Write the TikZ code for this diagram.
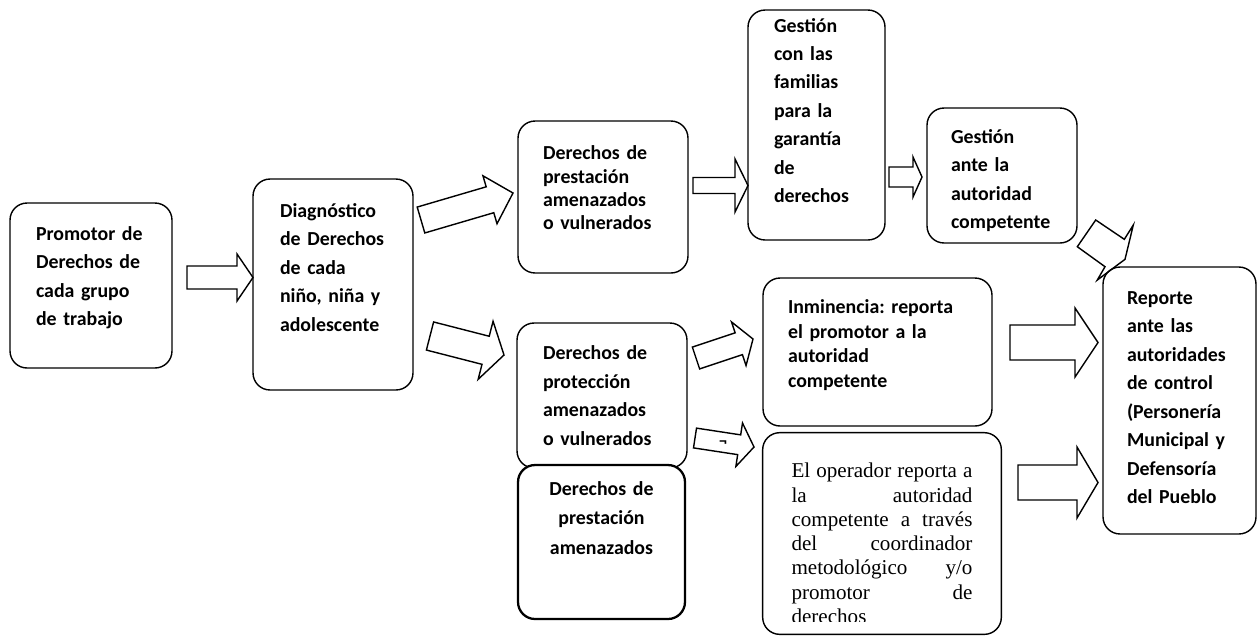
\documentclass[tikz,border=0pt]{standalone}
\usepackage{fontspec}
\newfontfamily\calib{Carlito}
\newfontfamily\timesf{Liberation Serif}
\usetikzlibrary{calc}

% outlined block arrow: tail, tip, shaft half width, head half width, head length
\newcommand{\blockarrow}[5]{%
  \coordinate (hb) at ($(#2)!#5!(#1)$);
  \draw[blockline] ($(#1)!#3!90:(#2)$) -- ($(hb)!#3!-90:(#1)$) -- ($(hb)!#4!-90:(#1)$)
    -- (#2) -- ($(hb)!#4!90:(#1)$) -- ($(hb)!#3!90:(#1)$) -- ($(#1)!#3!-90:(#2)$) -- cycle;
}
% extra room under the text, so that it sits higher in its box
\newcommand{\lift}[1]{\par\vspace{#1}\hrule height 0pt depth 0pt\relax}

\begin{document}
\begin{tikzpicture}[
    x=0.02cm, y=-0.02cm,
    box/.style={rectangle, draw, line width=0.8pt, rounded corners=0.34cm, fill=white, align=left, inner sep=0pt, font=\calib\bfseries\frenchspacing\fontsize{11.3}{16.2}\selectfont},
    thickbox/.style={box, line width=1.3pt, align=center, font=\calib\bfseries\fontsize{11.3}{17}\selectfont},
    blockline/.style={line width=0.8pt, line join=miter}
]
\useasboundingbox (0,0) rectangle (1260,637);

\node[box, minimum width=3.24cm, minimum height=3.3cm, text width=2.2cm] (promotor) at (91,285.5)
  {Promotor de\\ Derechos de\\ cada grupo\\ de trabajo\lift{0.32cm}};
\node[box, minimum width=3.2cm, minimum height=4.22cm, text width=2.12cm] (diagnostico) at (333,284.5)
  {Diagnóstico\\ de Derechos\\ de cada\\ niño, niña y\\ adolescente\lift{0.68cm}};
\node[box, minimum width=3.4cm, minimum height=3.04cm, text width=2.4cm, font=\calib\bfseries\fontsize{11.3}{13.3}\selectfont] (prestacion) at (603,197)
  {Derechos de\\ prestación\\ amenazados\\ o vulnerados\lift{0.36cm}};
\node[box, minimum width=2.74cm, minimum height=4.6cm, text width=1.7cm] (familias) at (816.5,125)
  {Gestión\\ con las\\ familias\\ para la\\ garantía\\ de\\ derechos\lift{0.58cm}};
\node[box, minimum width=3cm, minimum height=2.7cm, text width=2.04cm] (gestion) at (1002,175.5)
  {Gestión\\ ante la\\ autoridad\\ competente\lift{-0.2cm}};
\node[box, minimum width=4.58cm, minimum height=2.96cm, text width=3.58cm, font=\calib\bfseries\frenchspacing\fontsize{11.3}{13.9}\selectfont] (inminencia) at (877.5,352)
  {Inminencia: reporta\\ el promotor a la\\ autoridad\\ competente\lift{0.28cm}};
\node[box, minimum width=3.06cm, minimum height=5.34cm, text width=2.1cm] (reporte) at (1179.5,400.5)
  {Reporte\\ ante las\\ autoridades\\ de control\\ (Personería\\ Municipal y\\ Defensoría\\ del Pueblo\lift{0.12cm}};
\node[box, minimum width=3.4cm, minimum height=2.9cm, text width=2.36cm] (proteccion) at (602,395.5)
  {Derechos de\\ protección\\ amenazados\\ o vulnerados};
\node[thickbox, minimum width=3.34cm, minimum height=3.08cm, text width=3cm] (prestamen) at (601.5,542)
  {Derechos de\\ prestación\\ amenazados\lift{0.96cm}};

% text of this box is cut off at its lower edge
\begin{scope}
  \clip (0,0) rectangle (1260,621);
  \node[rectangle, inner sep=0pt, minimum width=4.76cm, minimum height=4.02cm, text width=3.62cm, align=justify, font=\timesf\fontsize{12}{13.8}\selectfont] (operador) at (882,533.5)
    {El operador reporta a\linebreak la autoridad\linebreak competente a través\linebreak del coordinador\linebreak metodológico y/o\linebreak promotor de\linebreak derechos\lift{-0.4cm}};
\end{scope}
\draw[line width=0.8pt, rounded corners=0.34cm] (operador.north west) rectangle (operador.south east);

% block arrows
\coordinate (a1t) at (187,277.5);   \coordinate (a1h) at (253,277.5);
\coordinate (a2t) at (421,220);     \coordinate (a2h) at (513,193);
\coordinate (a3t) at (430,336);     \coordinate (a3h) at (504,355);
\coordinate (a4t) at (693,185.5);   \coordinate (a4h) at (748,185.5);
\coordinate (a5t) at (889,177);     \coordinate (a5h) at (922,177);
\coordinate (a7t) at (696,358);     \coordinate (a7h) at (753,339);
\coordinate (a8t) at (695,438);     \coordinate (a8h) at (754,447);
\coordinate (a9t) at (1010,342.5);  \coordinate (a9h) at (1098,342.5);
\coordinate (a10t) at (1018,482.5); \coordinate (a10h) at (1098,482.5);

\blockarrow{a1t}{a1h}{0.23cm}{0.47cm}{0.32cm}
\blockarrow{a2t}{a2h}{0.27cm}{0.50cm}{0.48cm}
\blockarrow{a3t}{a3h}{0.29cm}{0.60cm}{0.38cm}
\blockarrow{a4t}{a4h}{0.16cm}{0.53cm}{0.26cm}
\blockarrow{a5t}{a5h}{0.20cm}{0.40cm}{0.18cm}
\blockarrow{a7t}{a7h}{0.23cm}{0.46cm}{0.30cm}
\blockarrow{a8t}{a8h}{0.20cm}{0.44cm}{0.30cm}
\blockarrow{a9t}{a9h}{0.35cm}{0.69cm}{0.46cm}
\blockarrow{a10t}{a10h}{0.35cm}{0.71cm}{0.42cm}

% squeezed arrow from gestion to reporte
\draw[blockline] (1095.7,220) -- (1124.3,239.3) -- (1133.3,225) -- (1125,259.3)
  -- (1097.3,280) -- (1105,266.7) -- (1077.3,246.7) -- cycle;

\node[inner sep=0pt, font=\calib\bfseries\fontsize{9}{10}\selectfont] (neg) at (723,444) {¬};
\end{tikzpicture}
\end{document}
